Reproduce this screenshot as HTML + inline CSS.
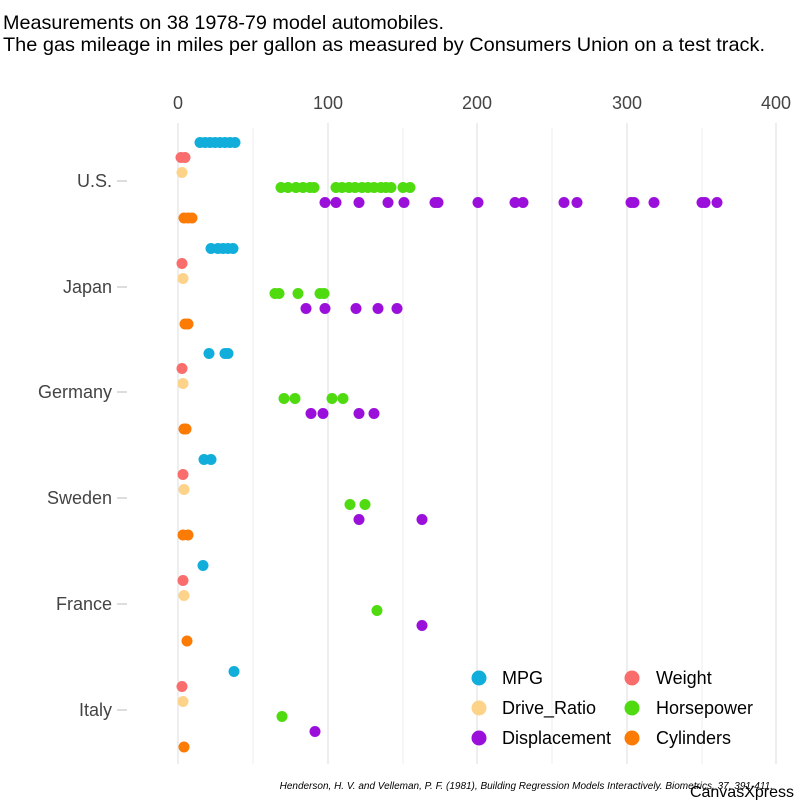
<!DOCTYPE html>
<html><head><meta charset="utf-8"><style>
body{margin:0;background:#fff;}
svg{display:block;font-family:"Liberation Sans",Arial,sans-serif;}
</style></head><body>
<svg id="s" width="800" height="800" viewBox="0 0 800 800" xmlns="http://www.w3.org/2000/svg">
<rect width="800" height="800" fill="#fff"/>
<text x="3" y="29" font-size="19.8" fill="#000">Measurements on 38 1978-79 model automobiles.</text>
<text x="3" y="51" font-size="19.5" fill="#000" textLength="762" lengthAdjust="spacingAndGlyphs">The gas mileage in miles per gallon as measured by Consumers Union on a test track.</text>
<g stroke="#eee" stroke-width="1">
<line x1="253" y1="128" x2="253" y2="764"/><line x1="403" y1="128" x2="403" y2="764"/>
<line x1="552" y1="128" x2="552" y2="764"/><line x1="702" y1="128" x2="702" y2="764"/>
</g>
<g stroke="#ddd" stroke-width="1">
<line x1="178" y1="123" x2="178" y2="764"/><line x1="328" y1="123" x2="328" y2="764"/>
<line x1="477" y1="123" x2="477" y2="764"/><line x1="627" y1="123" x2="627" y2="764"/>
<line x1="776" y1="123" x2="776" y2="764"/>
</g>
<g font-size="18" fill="#444" text-anchor="middle">
<text x="178" y="109">0</text><text x="328" y="109">100</text><text x="477" y="109">200</text><text x="627" y="109">300</text><text x="776" y="109">400</text>
</g>
<g font-size="18" fill="#444" text-anchor="end">
<text x="112" y="187">U.S.</text><text x="112" y="293">Japan</text><text x="112" y="398">Germany</text>
<text x="112" y="504">Sweden</text><text x="112" y="610">France</text><text x="112" y="716">Italy</text>
</g>
<g stroke="#bbb" stroke-width="1">
<line x1="117" y1="181" x2="127" y2="181"/><line x1="117" y1="287" x2="127" y2="287"/><line x1="117" y1="392" x2="127" y2="392"/>
<line x1="117" y1="498" x2="127" y2="498"/><line x1="117" y1="604" x2="127" y2="604"/><line x1="117" y1="710" x2="127" y2="710"/>
</g>
<g id="pts"></g>
<g font-size="18" fill="#000">
<circle cx="479" cy="678" r="7.5" fill="#11aedb"/><text x="502" y="684">MPG</text>
<circle cx="479" cy="708" r="7.5" fill="#fdd38a"/><text x="502" y="714">Drive_Ratio</text>
<circle cx="479" cy="738" r="7.5" fill="#9b0fdb"/><text x="502" y="744">Displacement</text>
<circle cx="632" cy="678" r="7.5" fill="#f96d6d"/><text x="656" y="684">Weight</text>
<circle cx="632" cy="708" r="7.5" fill="#4fdb0f"/><text x="656" y="714">Horsepower</text>
<circle cx="632" cy="738" r="7.5" fill="#fb7b05"/><text x="656" y="744">Cylinders</text>
</g>
<text x="773" y="789" font-size="10" font-style="italic" text-anchor="end" fill="#000">Henderson, H. V. and Velleman, P. F. (1981), Building Regression Models Interactively. Biometrics, 37, 391-411.</text>
<text x="794" y="797" font-size="16" text-anchor="end" fill="#000">CanvasXpress</text>
</svg>
<script>
var C={m:"#11aedb",w:"#f96d6d",d:"#fdd38a",h:"#4fdb0f",p:"#9b0fdb",c:"#fb7b05"};
var D=[
[181,{m:[200,205,210,215,220,225,230,235],w:[181,185],d:[182],h:[281,288,296,303,310,314,336,342,349,355,362,368,374,381,386,391,403,410],p:[325,336,359,388,404,435,438,478,515,523,564,577,631,634,654,702,705,717],c:[184,188,192]}],
[287,{m:[211,218,223,228,233],w:[182],d:[183],h:[275,279,298,320,324],p:[306,325,356,378,397],c:[185,188]}],
[392,{m:[209,225,228],w:[182],d:[183],h:[284,295,332,343],p:[311,323,359,374],c:[184,186]}],
[498,{m:[204,211],w:[183],d:[184],h:[350,365],p:[359,422],c:[183,188]}],
[604,{m:[203],w:[183],d:[184],h:[377],p:[422],c:[187]}],
[710,{m:[234],w:[182],d:[183],h:[282],p:[315],c:[184]}]];
var off={m:-38.5,w:-23.5,d:-8.5,h:6.5,p:21.5,c:37};
var g=document.getElementById("pts"),s="";
D.forEach(function(r){var y=r[0];for(var k in r[1]){r[1][k].forEach(function(x){s+='<circle cx="'+x+'" cy="'+(y+off[k])+'" r="5.5" fill="'+C[k]+'"/>';});}});
g.innerHTML=s;
</script>
</body></html>
